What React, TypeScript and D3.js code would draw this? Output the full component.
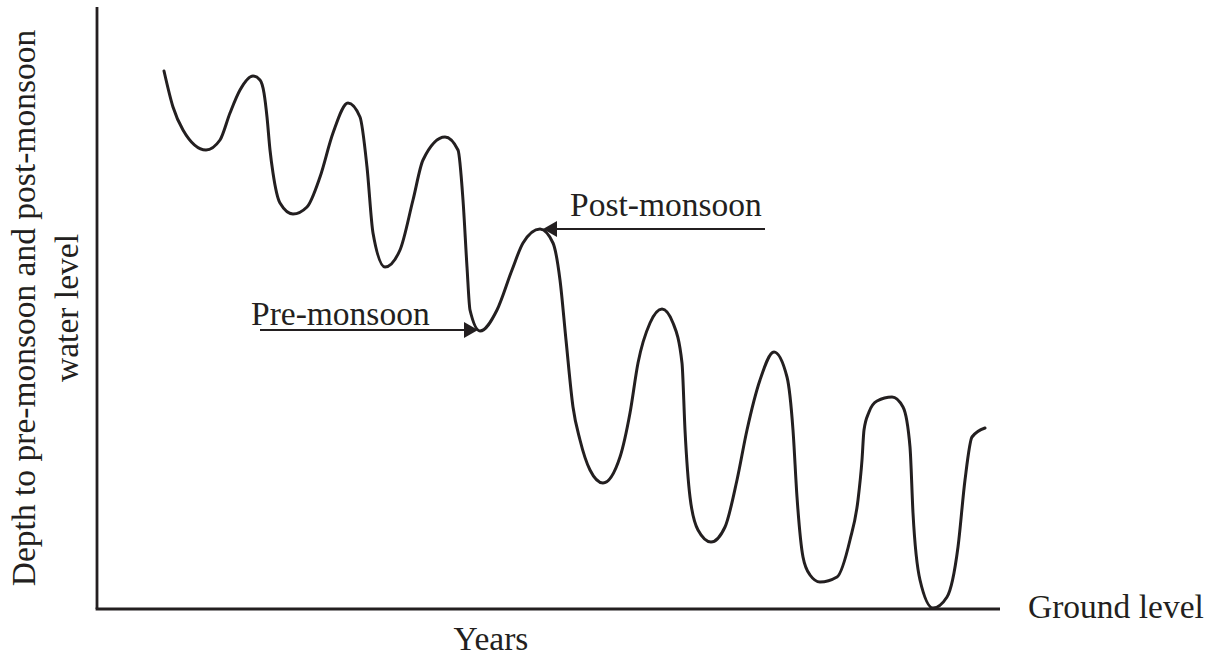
import React from "react";
import * as d3 from "d3";

// Hydrograph: time (arbitrary years axis units) vs water level (arbitrary units above ground-level line)
const timeValues: number[] = [
  67, 76, 86, 109, 123, 133, 143, 156, 163, 167, 170, 173, 176, 183, 196, 210, 223, 236,
  251, 263, 270, 276, 288, 303, 316, 326, 348, 361, 366, 370, 373, 383, 400, 415, 426,
  443, 456, 463, 469, 476, 483, 493, 506, 523, 533, 541, 553, 565, 576, 585, 588, 593,
  601, 614, 628, 640, 650, 663, 677, 690, 696, 700, 706, 713, 723, 740, 753, 761, 765,
  767, 772, 780, 795, 806, 813, 816, 823, 836, 850, 861, 868, 875, 888,
];
const levelValues: number[] = [
  538, 502, 479, 459, 469, 496, 519, 533, 529, 516, 492, 459, 436, 406, 395, 402, 432, 476,
  506, 492, 442, 376, 342, 359, 409, 449, 472, 459, 409, 342, 299, 278, 299, 339, 366,
  380, 366, 329, 269, 202, 169, 139, 126, 152, 196, 246, 286, 300, 286, 246, 179, 112,
  79, 67, 82, 129, 179, 229, 257, 232, 179, 112, 52, 34, 27, 32, 69, 109, 149,
  179, 197, 208, 212, 202, 162, 96, 29, 1, 12, 62, 129, 172, 181,
];

const preMonsoonIndex = 31; // trough marked "Pre-monsoon"
const postMonsoonIndex = 35; // peak marked "Post-monsoon"

const yLabelLines: string[] = ["Depth to pre-monsoon and post-monsoon", "water level"];
const xLabel = "Years";
const groundLabel = "Ground level";
const preLabel = "Pre-monsoon";
const postLabel = "Post-monsoon";

const W = 1220;
const H = 658;
const INK = "#231f20";
const FONT = "'Liberation Serif', 'Times New Roman', Times, serif";
const FS = 33.5;

export default function App() {
  const x = d3.scaleLinear().domain([0, 903]).range([97, 1000]);
  const y = d3.scaleLinear().domain([0, 600]).range([609, 9]);

  const pts: [number, number][] = timeValues.map((t, i) => [t, levelValues[i]]);
  const line = d3
    .line<[number, number]>()
    .x((d) => x(d[0]))
    .y((d) => y(d[1]))
    .curve(d3.curveMonotoneX);

  const preX = x(timeValues[preMonsoonIndex]) - 2;
  const preY = y(levelValues[preMonsoonIndex]) - 1;
  const postX = x(timeValues[postMonsoonIndex]) + 3;
  const postY = y(levelValues[postMonsoonIndex]);

  return (
    <svg
      width={W}
      height={H}
      style={{ position: "absolute", left: 0, top: 0, background: "#fff" }}
      fontFamily={FONT}
    >
      <rect x={0} y={0} width={W} height={H} fill="#fff" />
      {/* axes */}
      <line x1={x(0)} x2={x(0)} y1={y(602)} y2={y(0)} stroke={INK} strokeWidth={2.8} />
      <line x1={x(0) - 1.4} x2={x(903)} y1={y(0)} y2={y(0)} stroke={INK} strokeWidth={2.8} />
      {/* curve */}
      <path d={line(pts) || ""} fill="none" stroke={INK} strokeWidth={3} strokeLinejoin="round" strokeLinecap="round" />
      {/* pre-monsoon annotation */}
      <line x1={260} x2={preX - 10} y1={preY} y2={preY} stroke={INK} strokeWidth={2} />
      <polygon
        points={`${preX},${preY} ${preX - 14},${preY - 8} ${preX - 14},${preY + 8}`}
        fill={INK}
      />
      <text x={251} y={325} fontSize={FS} fill={INK}>
        {preLabel}
      </text>
      {/* post-monsoon annotation */}
      <line x1={postX + 10} x2={765} y1={postY} y2={postY} stroke={INK} strokeWidth={2} />
      <polygon
        points={`${postX},${postY} ${postX + 14},${postY - 8} ${postX + 14},${postY + 8}`}
        fill={INK}
      />
      <text x={570} y={216} fontSize={FS} fill={INK}>
        {postLabel}
      </text>
      {/* axis labels */}
      <text x={1028} y={618} fontSize={FS} fill={INK}>
        {groundLabel}
      </text>
      <text x={491} y={650} fontSize={FS} fill={INK} textAnchor="middle">
        {xLabel}
      </text>
      <g transform={`translate(0, 308) rotate(-90)`}>
        <text x={0} y={35} fontSize={FS} fill={INK} textAnchor="middle">
          {yLabelLines[0]}
        </text>
        <text x={0} y={78} fontSize={FS} fill={INK} textAnchor="middle">
          {yLabelLines[1]}
        </text>
      </g>
    </svg>
  );
}
